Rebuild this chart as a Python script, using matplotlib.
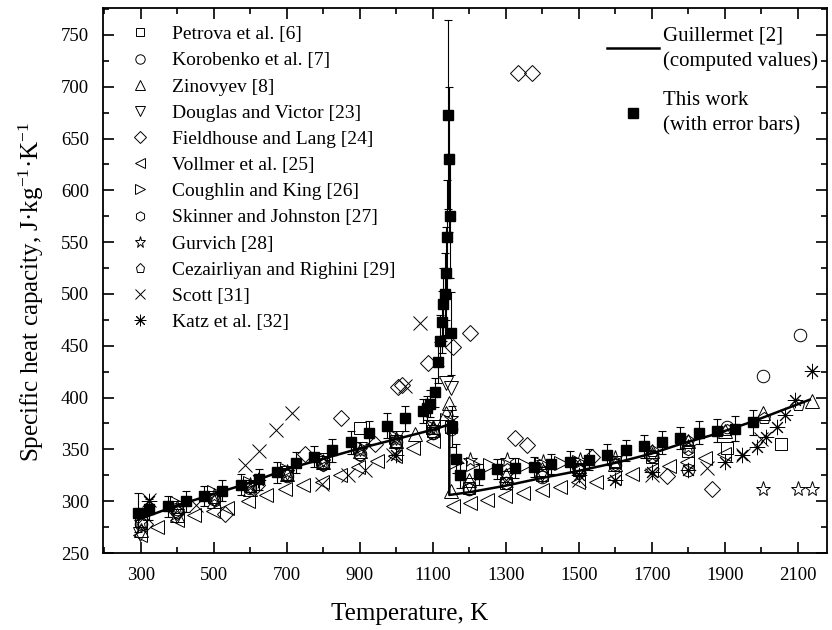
import matplotlib
matplotlib.use('Agg')
import matplotlib.pyplot as plt
from matplotlib.lines import Line2D
from matplotlib.ticker import MultipleLocator

plt.rcParams['font.family'] = ['Liberation Serif', 'DejaVu Serif']
plt.rcParams['mathtext.fontset'] = 'custom'
plt.rcParams['mathtext.rm'] = 'Liberation Serif'
plt.rcParams['mathtext.it'] = 'Liberation Serif:italic'

# Guillermet [2] computed curve
gu_T = [298, 400, 500, 600, 700, 800, 900, 1000, 1100, 1145, 1145, 1206, 1300, 1393, 1503, 1612, 1700, 1777, 1877, 1977, 2133]
gu_C = [283, 296, 307, 318, 331, 341, 351, 360, 369, 374, 306, 309, 315, 322, 329.5, 338, 346, 355, 365, 377, 398]

# This work (with error bars)
tw_T = [292, 322, 374, 423, 473, 522, 574, 623, 672, 725, 774, 823, 875, 925, 974, 1023, 1073, 1084, 1092,
        1106, 1114, 1120, 1125, 1129, 1132, 1135, 1138, 1141, 1144, 1147, 1149, 1152, 1164, 1174,
        1226, 1276, 1326, 1377, 1425, 1475, 1527, 1578, 1628, 1678, 1728, 1777, 1829, 1879, 1927, 1977]
tw_C = [289, 292, 295, 300, 305, 310, 316, 321, 328, 337, 343, 349, 357, 366, 373, 380, 387, 390, 394,
        405, 434, 455, 473, 490, 500, 520, 555, 673, 630, 575, 462, 372, 341, 325,
        326, 331, 332, 333, 336, 338, 340, 345, 349, 353, 357, 361, 366, 368, 370, 376]
tw_err = [19, 10, 10, 10, 10, 10, 10, 10, 10, 10, 10, 11, 11, 11, 12, 12, 12, 12, 13,
          14, 20, 25, 30, 35, 40, 45, 55, 91, 70, 60, 40, 20, 14, 12,
          10, 10, 10, 10, 10, 10, 10, 10, 10, 11, 11, 11, 11, 11, 12, 12]

# literature data
pet_T = [300, 400, 500, 600, 700, 800, 900, 1000, 1100, 1150, 1200, 1300, 1400, 1500, 1600, 1700, 1800, 1905, 2055]
pet_C = [281, 294, 304, 315, 326, 338, 371, 358, 368, 372, 313, 318, 325, 330, 338, 343, 348, 351, 355]

kor_T = [300, 400, 500, 600, 700, 800, 900, 1000, 1100, 1150, 1200, 1300, 1400, 1500, 1600, 1700, 1800, 1905, 2004, 2105]
kor_C = [278, 292, 302, 313, 324, 336, 346, 357, 366, 370, 312, 318, 323, 330, 335, 344, 330, 372, 421, 460]

zin_T = [300, 400, 500, 600, 700, 800, 900, 1000, 1050, 1100, 1137, 1145, 1150, 1200, 1300, 1400, 1500, 1600, 1700, 1800, 1900, 2005, 2138]
zin_C = [272, 287, 300, 312, 326, 338, 348, 358, 365, 372, 385, 395, 310, 320, 325, 331, 334, 336, 348, 358, 368, 385, 397]

dou_T = [298, 400, 500, 600, 700, 800, 900, 1000, 1100, 1137, 1150, 1200, 1300, 1400, 1500]
dou_C = [268, 286, 301, 314, 327, 340, 350, 361, 372, 414, 409, 316, 322, 326, 330]

fie_T = [310, 400, 530, 617, 749, 847, 940, 1004, 1014, 1087, 1156, 1201, 1325, 1333, 1357, 1371, 1535, 1741, 1864]
fie_C = [278, 290, 288, 316, 346, 380, 355, 410, 412, 433, 449, 462, 361, 713, 354, 713, 343, 324, 312]

vol_T = [297, 343, 398, 445, 497, 535, 594, 644, 694, 745, 795, 845, 895, 946, 996, 1046, 1100, 1155, 1203, 1249,
         1297, 1348, 1398, 1448, 1498, 1547, 1597, 1647, 1697, 1747, 1797, 1847, 1897]
vol_C = [267, 275, 282, 287, 291, 293, 300, 306, 312, 316, 319, 325, 333, 339, 344, 351, 358, 295, 298, 301,
         305, 308, 311, 314, 319, 319, 322, 326, 330, 334, 338, 342, 346]

cou_T = [400, 500, 600, 700, 800, 900, 1000, 1100, 1140, 1163, 1210, 1256, 1305, 1352, 1400, 1450, 1500]
cou_C = [298, 309, 318, 330, 341, 352, 362, 372, 378, 338, 336, 335, 335, 335, 336, 337, 338]

ski_T = [300, 400, 500, 600, 700, 800, 900, 1000, 1100, 1200, 1300, 1400, 1500, 1600, 1700, 1800]
ski_C = [279, 290, 302, 314, 325, 335, 345, 356, 366, 312, 318, 324, 330, 336, 343, 350]

gur_T = [300, 400, 500, 600, 700, 800, 900, 1000, 1100, 1150, 1201, 1302, 1402, 1503, 1600, 1700, 1800, 2004, 2100, 2138]
gur_C = [280, 293, 305, 316, 328, 338, 349, 360, 370, 380, 340, 340, 338, 340, 342, 345, 352, 312, 312, 312]

cez_T = [1500, 1600, 1700, 1800, 1905, 2008, 2101]
cez_C = [330, 338, 348, 358, 369, 380, 393]

sco_T = [323, 450, 585, 624, 671, 713, 795, 868, 914, 991, 1023, 1066, 1300, 1500, 1700, 1850, 1950, 2000]
sco_C = [301, 296, 335, 348, 369, 385, 317, 325, 330, 345, 411, 472, 320, 320, 325, 332, 345, 360]

kat_T = [323, 620, 1000, 1500, 1600, 1700, 1800, 1900, 1946, 1987, 2012, 2042, 2064, 2092, 2138]
kat_C = [300, 320, 345, 325, 320, 328, 330, 338, 345, 352, 362, 372, 383, 398, 426]

series = [
    ('Petrova et al. [6]', pet_T, pet_C, 's', 8),
    ('Korobenko et al. [7]', kor_T, kor_C, 'o', 9),
    ('Zinovyev [8]', zin_T, zin_C, '^', 10),
    ('Douglas and Victor [23]', dou_T, dou_C, 'v', 10),
    ('Fieldhouse and Lang [24]', fie_T, fie_C, 'D', 8),
    ('Vollmer et al. [25]', vol_T, vol_C, '<', 10),
    ('Coughlin and King [26]', cou_T, cou_C, '>', 10),
    ('Skinner and Johnston [27]', ski_T, ski_C, 'h', 9),
    ('Gurvich [28]', gur_T, gur_C, '*', 11),
    ('Cezairliyan and Righini [29]', cez_T, cez_C, 'p', 9),
    ('Scott [31]', sco_T, sco_C, 'x', 10),
    ('Katz et al. [32]', kat_T, kat_C, (8, 2, 0), 11),
]

fig = plt.figure(figsize=(8.32, 6.3), dpi=100)
ax = fig.add_axes([103 / 832, 77 / 630, 724 / 832, 545 / 630])

handles = []
for label, T, C, m, ms in series:
    ax.plot(T, C, ls='none', marker=m, ms=ms, mfc='none', mec='k', mew=0.7, zorder=3)
    handles.append(Line2D([], [], ls='none', marker=m, ms=ms * 0.75, mfc='none', mec='k', mew=0.7, label=label))

ax.plot(gu_T, gu_C, color='k', lw=1.8, zorder=4)
ax.errorbar(tw_T, tw_C, yerr=tw_err, fmt='s', color='k', ms=6.5, capsize=3,
            elinewidth=0.8, capthick=0.8, zorder=5)

ax.set_xlim(196, 2180)
ax.set_ylim(250, 776)
ax.set_xticks(range(300, 2101, 200))
ax.xaxis.set_minor_locator(MultipleLocator(100))
ax.set_yticks(range(250, 751, 50))
ax.yaxis.set_minor_locator(MultipleLocator(25))
ax.tick_params(which='both', direction='in', top=True, right=True, labelsize=13.5, width=1.2, pad=10)
ax.tick_params(which='major', length=8)
ax.tick_params(which='minor', length=4.5)
for s in ax.spines.values():
    s.set_linewidth(1.3)

ax.set_xlabel('Temperature, K', fontsize=18)
ax.xaxis.set_label_coords((410 - 103) / 724, -0.092)
ax.set_ylabel('Specific heat capacity, J·kg$^{-1}$·K$^{-1}$', fontsize=18)
ax.yaxis.set_label_coords(-0.079, 0.48)

leg1 = ax.legend(handles=handles, loc='upper left', bbox_to_anchor=(0.02, 0.982), frameon=False,
                 fontsize=14, handlelength=1.5, handletextpad=0.9, labelspacing=0.44, borderaxespad=0)
ax.add_artist(leg1)

h2 = [Line2D([], [], color='k', lw=1.8, label='Guillermet [2]\n(computed values)'),
      Line2D([], [], ls='none', marker='s', ms=6.5, color='k', label='This work\n(with error bars)')]
leg2 = ax.legend(handles=h2, loc='upper right', bbox_to_anchor=(0.999, 0.982), frameon=False,
                 fontsize=15, handlelength=2.5, handletextpad=0.2, labelspacing=0.95, borderaxespad=0)
for t in leg2.get_texts():
    t.set_linespacing(1.44)

fig.savefig('out.png', dpi=100)
